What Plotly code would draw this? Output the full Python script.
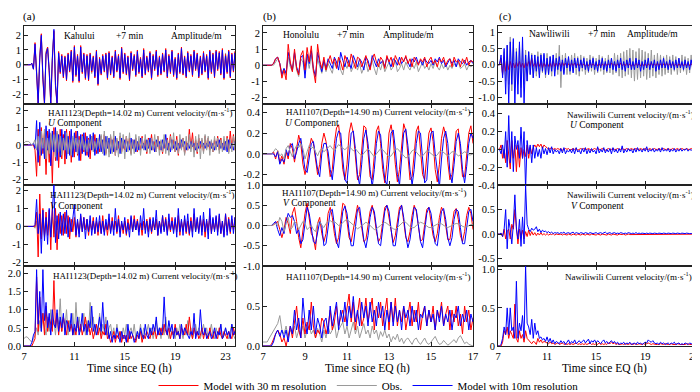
import numpy as np
import plotly.graph_objects as go

# ---------------- data ----------------
T0 = 7.0
DT_AC = 0.125   # sampling step (h) for columns (a) and (c)
DT_B = 0.1      # sampling step (h) for column (b)

# (a) Kahului amplitude (m)
A1_RED = [0,0,0,0,0,0.1,-0.3,1.5,
 -0.5,-2.7,0.5,2.1,-1.0,-2.7,0.8,1.2,
 -0.5,-2.7,0.3,2.3,-1.5,-2.7,0.9,-0.6,
 0.7,-0.9,0.6,-1.1,0.8,-0.5,1.0,-1.2,
 1.3,-0.8,0.7,-1.2,1.3,-0.6,0.8,-1.0,
 0.7,-1.1,0.8,-0.5,0.6,-0.9,1.0,-1.4,
 0.5,-0.7,0.7,-0.5,0.8,-1.0,0.9,-0.7,
 0.6,-0.9,1.0,-0.5,0.7,-1.0,1.2,-0.6,
 0.8,-0.7,0.6,-1.1,0.9,-0.4,0.7,-0.8,
 1.0,-0.6,0.5,-0.9,1.1,-0.7,0.6,-0.5,
 0.9,-1.0,0.7,-0.4,1.0,-0.8,0.6,-0.7,
 0.8,-0.5,1.1,-0.9,0.7,-0.6,1.0,-0.8,
 0.5,-1.0,0.8,-0.6,1.2,-0.7,0.6,-0.9,
 0.9,-0.5,0.7,-0.8,1.0,-0.4,0.8,-0.9,
 0.6,-0.7,0.9,-0.5,0.7,-1.0,1.0,-0.6,
 0.8,-0.9,1.0,-0.4,0.9,-0.7,1.1,-1.0,
 0.7,-0.6,1.0,-0.9,0.8,-0.5,0.9,-0.7]
A1_OBS = [0,0,0,0,0,0,-0.2,1.2,
 -0.3,-2.3,0.6,1.9,-0.7,-2.4,0.9,1.2,
 -0.2,-2.2,0.6,2.2,-1.2,-2.3,0.6,-0.3,
 0.4,-0.6,0.3,-0.5,0.5,-0.3,0.6,-0.7,
 0.8,-0.4,0.5,-0.6,0.7,-0.3,0.4,-0.6,
 0.5,-0.3,0.4,-0.6,0.3,-0.5,0.6,-0.8,
 0.3,-0.5,0.5,-0.3,0.6,-0.7,0.5,-0.4,
 0.4,-0.6,0.7,-0.3,0.5,-0.6,0.8,-0.4,
 0.5,-0.4,0.3,-0.8,0.6,-0.2,0.5,-0.5,
 0.7,-0.3,0.3,-0.6,0.8,-0.4,0.4,-0.3,
 0.6,-0.7,0.5,-0.2,0.7,-0.5,0.4,-0.5,
 0.5,-0.3,0.8,-0.6,0.4,-0.3,0.7,-0.5,
 0.3,-0.7,0.5,-0.4,0.8,-0.5,0.4,-0.6,
 0.6,-0.3,0.5,-0.5,0.7,-0.2,0.5,-0.6,
 0.4,-0.5,0.6,-0.3,0.5,-0.7,0.7,-0.4,
 0.5,-0.6,0.7,-0.2,0.6,-0.5,0.9,-0.7,
 0.8,-0.4,0.9,-0.6,0.5,-0.3,0.6,-0.5]
A1_BLUE = [0,0,0,0,0,0.1,-0.3,1.4,
 -0.4,-2.6,0.4,2.0,-0.9,-2.6,0.7,1.1,
 -0.4,-2.6,0.4,2.4,-1.4,-2.6,0.8,-0.5,
 0.6,-0.8,0.5,-1.0,0.7,-0.4,0.9,-1.1,
 1.2,-0.7,0.6,-1.1,1.2,-0.5,0.7,-0.9,
 0.6,-1.0,0.7,-0.4,0.5,-0.8,0.9,-1.3,
 0.4,-0.6,0.6,-0.4,0.7,-0.9,0.8,-0.6,
 0.5,-0.8,0.9,-0.4,0.6,-0.9,1.1,-0.5,
 0.7,-0.6,0.5,-1.0,0.8,-0.3,0.6,-0.7,
 0.9,-0.5,0.4,-0.8,1.0,-0.6,0.5,-0.4,
 0.8,-0.9,0.6,-0.3,0.9,-0.7,0.5,-0.6,
 0.7,-0.4,1.0,-0.8,0.6,-0.5,0.9,-0.7,
 0.4,-0.9,0.7,-0.5,1.1,-0.6,0.5,-0.8,
 0.8,-0.4,0.6,-0.7,0.9,-0.3,0.7,-0.8,
 0.5,-0.6,0.8,-0.4,0.6,-0.9,0.9,-0.5,
 0.7,-0.8,0.9,-0.3,0.8,-0.6,1.0,-0.9,
 0.6,-0.5,0.9,-0.8,0.7,-0.4,0.8,-0.6]

# (a) HAI1123 U component (m/s)
A2_RED = [0,0,0,0,0,0,0,-0.3,
 -1.8,0.9,-1.2,1.0,-0.5,0.7,-1.7,0.8,
 -1.0,0.6,-2.2,1.0,-0.9,0.7,-1.3,0.9,
 -0.8,0.6,-1.1,0.9,-0.5,0.8,-1.0,0.4,
 -0.7,0.8,-0.6,0.5,-0.9,0.6,-0.4,0.7,
 -0.6,0.4,-0.8,0.5,-0.3,0.6,-0.5,0.3,
 -0.4,0.5,-0.3,0.6,-0.5,0.2,-0.4,0.5,
 -0.3,0.4,-0.6,0.3,-0.2,0.5,-0.4,0.2,
 -0.3,0.5,-0.2,0.4,-0.5,0.3,-0.2,0.4,
 -0.4,0.2,-0.3,0.5,-0.2,0.3,-0.5,0.4,
 -0.2,0.6,-0.3,0.2,-0.4,0.5,-0.3,0.2,
 -0.5,0.3,-0.2,0.4,-0.3,0.6,-0.2,0.3,
 -0.4,0.5,-0.6,0.3,-0.2,0.4,-0.5,0.2,
 -0.3,0.9,-0.2,0.7,-0.4,0.3,-0.5,0.4,
 -0.2,0.3,-0.4,0.5,-0.2,0.4,-0.3,0.2,
 -0.4,0.3,-0.2,0.5,-0.3,0.4,-0.2,0.3,
 -0.3,0.5,-0.4,0.8,-0.2,0.6,-0.3,0.4]
A2_OBS = [0.1,0.2,0.2,0.2,0.1,0,0.1,0.3,
 -0.3,0.5,-0.6,0.8,-0.2,0.9,-0.8,0.4,
 -0.5,0.7,-0.3,0.6,-0.7,0.8,-0.4,0.5,
 -0.6,0.4,-0.3,0.7,-0.5,0.3,-0.6,0.5,
 -0.2,0.4,-0.5,0.3,-0.2,0.5,-0.3,0.2,
 -0.4,0.3,-0.2,0.5,-0.4,0.2,-0.3,0.4,
 -0.2,0.6,-0.5,0.8,-0.6,0.5,-0.7,0.6,
 -0.5,0.8,-0.6,0.4,-0.7,0.7,-0.5,0.6,
 -0.8,0.5,-0.4,0.7,-0.6,0.3,-0.5,0.6,
 -0.3,0.5,-0.6,0.4,-0.3,0.6,-0.4,0.3,
 -0.5,0.4,-0.3,0.6,-0.4,0.5,-0.6,0.3,
 -0.4,0.6,-0.5,0.3,-0.6,0.5,-0.3,0.7,
 -0.4,0.3,-0.5,0.6,-0.3,0.4,-0.6,0.5,
 -0.3,0.6,-0.4,0.3,-0.7,0.5,-0.4,0.6,
 -0.8,0.4,-0.5,0.6,-0.3,0.5,-0.6,0.3,
 -0.4,0.5,-0.3,0.4,-0.5,0.3,-0.4,0.5,
 -0.3,0.4,-0.5,0.3,-0.4,0.5,-0.3,0.4]
A2_BLUE = [0,0,0,0,0,0,0.1,-0.2,
 1.4,-1.0,1.3,-0.6,0.4,-0.8,1.1,-0.3,
 0.9,-1.2,0.8,-0.4,1.0,-0.9,0.6,-0.7,
 0.9,-0.3,0.8,-0.8,0.5,-0.6,0.9,-0.7,
 0.7,-0.4,0.8,-0.9,0.6,-0.5,0.7,-0.6,
 0.5,-0.7,0.6,-0.3,0.7,-0.6,0.4,-0.5,
 0.6,-0.4,0.3,-0.6,0.5,-0.2,0.4,-0.5,
 0.3,-0.4,0.5,-0.3,0.2,-0.5,0.4,-0.2,
 0.3,-0.4,0.2,-0.3,0.4,-0.2,0.3,-0.4,
 0.2,-0.3,0.4,-0.2,0.1,-0.3,0.3,-0.2,
 0.4,-0.3,0.2,-0.4,0.3,-0.1,0.2,-0.3,
 0.3,-0.2,0.6,-0.3,0.1,-0.4,0.3,-0.2,
 0.2,-0.3,0.1,-0.2,0.3,-0.1,0.2,-0.3,
 0.1,-0.2,0.2,-0.1,0.1,-0.3,0.1,-0.2,
 0.2,-0.1,0.1,-0.2,0.1,-0.1,0.2,-0.2,
 0.1,-0.3,0.2,-0.1,0.3,-0.2,0.1,-0.3,
 0.2,-0.4,0.3,-0.2,0.1,-0.3,0.2,-0.2]

# (a) HAI1123 V component (m/s)
A3_RED = [0,0,0,0,0,0,0,0,
 0.8,-1.7,1.8,-0.7,1.0,-0.6,0.8,-0.5,
 0.9,-1.3,1.2,-0.6,1.0,-1.3,0.7,-0.4,
 0.6,-0.5,0.8,-0.4,0.6,-0.7,0.4,-0.3,
 0.5,-0.6,0.3,-0.4,0.6,-0.3,0.5,-0.2,
 0.4,-0.5,0.3,-0.2,0.5,-0.4,0.3,-0.5,
 0.3,-0.4,0.6,-0.3,0.2,-0.5,0.4,-0.3,
 0.5,-0.2,0.3,-0.4,0.6,-0.3,0.2,-0.4,
 0.3,-0.5,0.4,-0.2,0.5,-0.3,0.6,-0.2,
 0.4,-0.3,0.2,-0.5,0.3,-0.2,0.4,-0.3,
 0.5,-0.4,0.3,-0.2,0.4,-0.5,0.3,-0.3,
 0.6,-0.2,0.5,-0.4,0.3,-0.3,0.5,-0.2,
 0.4,-0.3,0.6,-0.5,0.3,-0.2,0.4,-0.4,
 0.3,-0.5,0.5,-0.3,0.7,-0.2,0.4,-0.3,
 0.5,-0.3,0.4,-0.6,0.3,-0.2,0.6,-0.4,
 0.4,-0.2,0.5,-0.3,0.6,-0.4,0.3,-0.5,
 0.7,-0.3,0.5,-0.4,0.4,-0.2,0.5,-0.3]
A3_OBS = [0,0,0,0,0,0,0,-0.1,
 0.3,-0.4,0.5,-0.3,0.4,-0.5,0.3,-0.2,
 0.4,-0.3,0.5,-0.4,0.3,-0.2,0.4,-0.3,
 0.2,-0.3,0.3,-0.2,0.3,-0.3,0.2,-0.2,
 0.3,-0.2,0.2,-0.3,0.2,-0.2,0.3,-0.1,
 0.2,-0.3,0.1,-0.2,0.3,-0.2,0.2,-0.1,
 0.3,-0.2,0.2,-0.3,0.1,-0.2,0.3,-0.2,
 0.2,-0.1,0.3,-0.2,0.2,-0.3,0.1,-0.2,
 0.2,-0.3,0.2,-0.1,0.3,-0.2,0.1,-0.2,
 0.3,-0.2,0.1,-0.2,0.2,-0.1,0.3,-0.2,
 0.2,-0.3,0.2,-0.1,0.3,-0.2,0.2,-0.1,
 0.1,-0.2,0.3,-0.2,0.2,-0.1,0.2,-0.3,
 0.2,-0.1,0.3,-0.2,0.1,-0.2,0.2,-0.1,
 0.3,-0.2,0.2,-0.1,0.2,-0.3,0.1,-0.2,
 0.2,-0.1,0.3,-0.2,0.2,-0.1,0.3,-0.2,
 0.1,-0.2,0.2,-0.1,0.3,-0.2,0.1,-0.1,
 0.2,-0.1,0.2,-0.2,0.1,-0.1,0.2,-0.1]
A3_BLUE = [0,0,0,0,0,0,0,0.1,
 1.5,-0.4,0.7,-1.5,0.9,-0.8,0.5,-1.0,
 1.0,-0.6,1.2,2.3,-0.9,0.6,-0.7,0.8,
 -0.5,0.7,-0.4,0.9,-0.6,0.5,-0.3,0.6,
 1.2,-0.5,0.4,-0.6,0.7,-0.3,0.5,-0.7,
 0.4,-0.3,0.6,-0.5,0.3,-0.4,0.5,-0.3,
 0.6,-0.4,0.3,-0.5,0.4,-0.2,0.7,-0.4,
 0.3,-0.5,1.0,-0.3,0.4,-0.6,0.3,-0.2,
 0.5,-0.4,0.2,-0.6,0.6,-0.3,0.4,-0.2,
 0.3,-0.5,0.6,-0.2,1.0,-0.4,0.3,-0.6,
 0.4,-0.3,0.5,-0.2,0.9,-0.5,0.3,-0.4,
 0.6,-0.3,0.4,-0.5,0.7,-0.2,0.3,-0.4,
 0.5,-0.6,1.0,-0.3,0.4,-0.5,0.6,-0.3,
 0.7,-0.4,0.3,-0.6,1.0,-0.3,0.5,-0.4,
 0.6,-0.5,0.8,-0.3,0.4,-0.7,1.0,-0.4,
 0.5,-0.3,0.6,-0.5,0.7,-0.4,0.3,-0.6,
 0.7,-0.5,0.4,-0.3,0.6,-0.4,0.5,-0.3]

# (a) HAI1123 speed (m/s)
A4_RED = [0,0,0,0,0,0,0.1,0.2,
 1.9,0.4,1.35,0.5,0.9,0.3,1.1,0.4,
 0.8,0.6,0.4,1.8,0.5,0.9,0.3,0.7,
 0.4,0.8,0.5,0.3,0.7,0.4,0.6,0.3,
 0.5,0.3,0.7,0.4,0.6,0.3,0.5,0.8,
 0.4,0.6,0.3,0.5,0.2,0.4,0.6,0.3,
 0.5,0.2,0.4,0.3,0.6,0.2,0.3,0.1,
 0.2,0.4,0.1,0.3,0.2,0.4,0.1,0.3,
 0.2,0.3,0.1,0.4,0.2,0.3,0.2,0.1,
 0.3,0.2,0.4,0.1,0.3,0.2,0.4,0.3,
 0.2,0.4,0.3,0.5,0.2,0.4,0.3,0.5,
 0.3,0.6,0.4,0.3,0.5,0.2,0.4,0.3,
 0.6,0.3,0.4,0.2,0.5,0.4,0.3,0.6,
 0.3,0.8,0.4,0.2,0.5,0.3,0.4,0.2,
 0.3,0.5,0.2,0.4,0.3,0.2,0.5,0.3,
 0.2,0.4,0.3,0.2,0.5,0.3,0.2,0.4,
 0.3,0.2,0.4,0.3,0.2,0.5,0.3,0.75]
A4_OBS = [0.2,0.25,0.25,0.2,0.15,0.1,0.2,0.3,
 0.5,0.3,0.7,0.4,0.9,0.5,0.3,0.8,
 0.4,1.0,0.5,0.7,0.3,0.9,0.6,1.3,
 0.4,0.8,0.5,1.0,0.3,0.7,0.5,0.9,
 0.3,1.2,0.5,0.8,0.4,0.6,0.9,0.3,
 0.7,0.4,1.2,0.5,0.8,0.3,0.6,0.4,
 0.9,0.3,0.6,0.4,0.8,0.3,0.5,0.6,
 0.3,0.5,0.2,0.6,0.3,0.4,0.2,0.5,
 0.3,0.6,0.2,0.4,0.5,0.3,0.6,0.2,
 0.4,0.3,0.6,0.2,0.5,0.3,0.4,0.6,
 0.3,0.5,0.2,0.4,0.7,0.3,0.5,0.2,
 0.6,0.3,0.8,0.4,0.2,0.5,0.3,0.4,
 0.2,0.5,0.3,0.6,0.4,0.2,0.5,0.3,
 0.7,0.3,0.5,0.2,0.4,0.6,0.3,0.5,
 0.2,0.4,0.6,0.3,0.5,0.2,0.4,0.6,
 0.3,0.2,0.5,0.3,0.4,0.6,0.2,0.3,
 0.5,0.3,0.2,0.4,0.6,0.3,0.2,0.4]
A4_BLUE = [0,0,0,0,0,0.1,0.3,0.4,
 2.1,0.6,1.5,0.4,2.1,0.7,1.2,0.5,
 0.9,0.3,1.0,0.6,0.5,1.0,0.4,0.8,
 0.5,0.9,0.3,0.7,0.6,0.4,0.9,0.3,
 0.6,0.4,0.8,0.3,0.5,0.9,0.4,0.6,
 0.3,0.7,0.5,1.1,0.4,0.6,0.3,0.5,
 0.8,0.4,1.2,0.5,0.3,0.7,0.2,0.4,
 0.1,0.3,0.2,0.5,0.3,0.1,0.4,0.2,
 0.3,0.1,0.6,0.2,0.4,0.3,0.1,0.2,
 0.4,0.2,0.5,0.3,0.2,0.6,0.3,0.2,
 0.5,0.3,0.6,0.4,0.8,0.3,0.5,0.3,
 0.4,1.35,0.5,0.3,0.7,0.4,0.6,0.2,
 0.5,0.3,0.4,0.2,0.6,0.3,0.5,0.4,
 0.3,0.2,0.4,0.3,0.9,0.2,0.4,0.3,
 1.0,0.4,0.3,0.5,0.2,0.3,0.4,0.2,
 0.3,0.5,0.2,0.4,0.3,0.6,0.2,0.3,
 0.5,0.3,0.4,0.2,0.6,0.3,0.4,0.5]

# (b) Honolulu amplitude (m)
B1_RED = [0,0,0,0,0,0.1,0.4,0.5,0.1,-0.8,
 -0.3,-0.9,1.3,0.2,-0.4,1.0,-0.2,-0.6,0.6,0.9,
 -0.3,1.1,0.2,1.2,-0.3,-1.1,1.3,0.3,-0.2,0.5,
 -0.3,0.2,0.6,0.1,0.4,-0.2,0.5,0.2,-0.3,0.6,
 0.3,-0.1,0.7,0.2,-0.2,0.5,0.4,-0.1,0.3,0.6,
 0.1,-0.3,0.4,0.7,0.2,-0.1,0.5,0.3,-0.2,0.6,
 0.2,0.5,-0.1,0.6,0.3,0.0,0.5,0.2,0.6,0.1,
 0.4,-0.1,0.5,0.3,0.0,0.4,0.2,0.5,-0.1,0.3,
 0.5,0.1,0.3,-0.1,0.4,0.2,0.5,0.0,0.3,0.4,
 -0.1,0.5,0.2,0.3,-0.1,0.4,0.1,0.5,0.0,0.3,
 0.2]
B1_OBS = [0,0,0,0,0,0,0.2,0.4,0.1,-0.5,
 -0.2,-0.6,0.5,-0.1,-0.4,0.6,-0.3,-0.7,0.4,0.2,
 -0.5,0.5,-0.2,0.6,-0.4,-0.6,0.4,-0.1,-0.5,0.2,
 -0.4,0.1,-0.2,-0.5,0.2,-0.1,0.4,-0.3,-0.6,0.1,
 -0.2,0.3,-0.4,-0.1,0.2,-0.3,0.1,-0.5,-0.2,0.2,
 -0.4,-0.1,0.3,-0.2,-0.6,0.1,-0.3,0.2,-0.4,-0.1,
 0.2,-0.3,-0.1,0.3,-0.4,-0.2,0.1,-0.3,0.2,-0.1,
 -0.3,0.1,-0.2,0.2,-0.4,-0.1,0.2,-0.2,0.0,-0.3,
 0.1,-0.2,0.2,-0.1,-0.3,0.1,-0.2,0.1,-0.3,0.0,
 -0.2,0.1,-0.1,0.2,-0.2,-0.1,0.1,-0.3,0.0,-0.1,
 0.0]
B1_BLUE = [0,0,0,0,0,0.1,0.4,0.5,0.1,-0.6,
 -0.2,-0.5,0.8,0.1,-0.3,0.8,-0.1,-0.5,0.5,0.6,
 -0.8,0.7,0.1,0.9,-0.2,-0.7,0.8,0.2,-0.4,0.3,
 -0.2,0.4,0.1,-0.2,0.5,0.2,-0.3,0.8,0.3,-0.1,
 0.5,0.2,-0.2,0.6,0.3,-0.1,0.4,0.2,-0.3,0.5,
 0.3,-0.2,0.6,0.2,-0.1,0.4,0.1,0.3,-0.1,0.5,
 0.2,-0.1,0.4,0.3,0.0,0.5,0.1,0.3,0.5,0.2,
 -0.1,0.4,0.2,0.5,0.1,0.3,0.0,0.4,0.2,0.1,
 0.3,0.0,0.4,0.2,0.5,0.1,0.3,-0.1,0.2,0.4,
 0.1,0.3,-0.1,0.4,0.2,0.1,0.3,0.0,0.2,0.3,
 0.1]

# (b) HAI1107 U component (m/s)
B2_RED = [0,0,0,0,0,0.02,-0.05,0.03,-0.08,-0.02,
 -0.1,0.02,-0.05,0.1,0.05,-0.08,0.05,0.18,0.1,-0.1,
 -0.2,-0.1,0.05,0.15,0.1,-0.08,-0.2,-0.1,0.1,0.2,
 0.12,-0.05,-0.22,-0.15,0.1,0.25,0.28,0.1,-0.15,-0.25,
 -0.1,0.2,0.3,0.2,-0.05,-0.25,-0.2,0.05,0.27,0.25,
 0.0,-0.22,-0.25,0.0,0.22,0.27,0.1,-0.15,-0.28,-0.1,
 0.2,0.28,0.15,-0.1,-0.27,-0.15,0.1,0.29,0.22,-0.02,
 -0.25,-0.22,0.02,0.22,0.27,0.05,-0.2,-0.25,-0.05,0.2,
 0.25,0.12,-0.15,-0.27,-0.1,0.15,0.26,0.18,-0.08,-0.25,
 -0.2,0.05,0.22,0.24,0.0,-0.22,-0.22,0.0,0.2,0.27,
 0.1]
B2_OBS = [0,0,0,0,0,0.02,0.05,0.03,-0.02,0.0,
 -0.05,0.05,0.08,0.02,-0.03,0.04,0.08,0.06,0.1,0.05,
 -0.05,0.02,0.08,0.05,0.07,0.02,-0.02,0.03,0.05,0.02,
 0.04,0.06,0.08,0.05,0.03,0.06,0.09,0.07,0.05,0.04,
 0.06,0.08,0.05,0.03,0.05,0.02,0.0,-0.02,0.01,0.03,
 0.05,0.02,-0.01,-0.03,0.0,0.03,0.05,0.04,0.02,-0.01,
 -0.03,-0.02,0.01,0.04,0.05,0.03,0.0,-0.02,-0.04,-0.03,
 0.0,0.03,0.04,0.02,-0.01,-0.03,-0.02,0.01,0.03,0.02,
 0.0,-0.02,-0.03,-0.01,0.02,0.03,0.01,-0.01,-0.02,0.0,
 0.02,0.02,0.0,-0.02,-0.01,0.01,0.02,0.01,-0.01,-0.01,
 0.0]
B2_BLUE = [0,0,0,0,0,0.0,-0.03,0.02,-0.1,-0.05,
 -0.08,0.04,-0.02,0.08,0.1,-0.05,0.02,0.1,0.15,0.0,
 -0.15,-0.18,-0.02,0.1,0.12,0.0,-0.15,-0.22,0.0,0.1,
 0.1,0.02,-0.15,-0.25,-0.05,0.15,0.22,0.2,-0.05,-0.25,
 -0.28,0.0,0.2,0.22,0.05,-0.2,-0.3,-0.1,0.15,0.23,
 0.1,-0.15,-0.32,-0.15,0.1,0.22,0.18,-0.05,-0.25,-0.3,
 0.0,0.2,0.23,0.05,-0.2,-0.3,-0.05,0.2,0.24,0.08,
 -0.15,-0.3,-0.15,0.1,0.22,0.2,-0.05,-0.28,-0.25,0.05,
 0.2,0.22,0.0,-0.2,-0.32,-0.05,0.15,0.22,0.1,-0.18,
 -0.28,-0.1,0.12,0.2,0.1,-0.15,-0.28,-0.12,0.1,0.2,
 0.15]

# (b) HAI1107 V component (m/s)
B3_RED = [0,0,0,0,0,0.02,0.05,0.1,-0.1,-0.3,
 -0.1,0.2,0.05,-0.2,0.3,0.45,0.1,-0.3,-0.55,-0.1,
 0.3,0.55,0.2,-0.2,-0.3,-0.6,0.05,0.2,-0.2,-0.4,
 -0.2,0.3,0.45,0.2,-0.2,-0.45,-0.3,0.2,0.55,0.5,
 0.1,-0.3,-0.4,-0.1,0.3,0.5,0.3,-0.1,-0.4,-0.35,
 0.0,0.35,0.5,0.25,-0.15,-0.4,-0.3,0.1,0.45,0.5,
 0.2,-0.2,-0.42,-0.25,0.15,0.45,0.5,0.1,-0.3,-0.4,
 -0.15,0.25,0.5,0.35,-0.05,-0.38,-0.35,0.0,0.4,0.45,
 0.15,-0.25,-0.4,-0.2,0.2,0.45,0.35,-0.05,-0.35,-0.35,
 0.0,0.35,0.42,0.15,-0.25,-0.4,-0.15,0.25,0.45,0.3,
 -0.1]
B3_OBS = [0,0,0,0,0,0.02,0.05,0.0,0.2,0.1,
 -0.15,0.05,0.2,-0.1,-0.05,0.1,0.05,-0.1,0.0,0.1,
 0.05,-0.1,-0.05,0.0,-0.1,-0.15,0.05,0.1,0.0,-0.05,
 0.05,0.1,0.12,0.08,0.1,0.05,0.0,0.02,0.08,0.12,
 0.15,0.1,0.05,0.0,-0.05,-0.08,-0.05,0.0,0.05,0.08,
 0.05,0.0,-0.05,-0.1,-0.08,-0.05,0.0,0.05,0.08,0.05,
 0.0,-0.05,-0.08,-0.1,-0.05,0.0,0.05,0.1,0.08,0.02,
 -0.03,-0.06,-0.05,0.0,0.05,0.08,0.06,0.02,-0.02,-0.05,
 -0.05,-0.02,0.02,0.05,0.06,0.04,0.0,-0.03,-0.05,-0.03,
 0.0,0.03,0.05,0.04,0.02,-0.02,-0.04,-0.03,0.0,0.02,
 0.03]
B3_BLUE = [0,0,0,0,0,0.05,0.1,-0.1,-0.25,-0.05,
 -0.2,0.1,0.3,0.2,0.25,0.1,-0.2,-0.1,-0.45,-0.35,
 0.1,0.45,0.3,0.0,-0.4,-0.45,-0.15,0.1,0.0,-0.5,
 -0.45,0.0,0.35,0.4,0.0,-0.4,-0.55,-0.05,0.35,0.48,
 0.3,-0.15,-0.5,-0.5,0.0,0.4,0.45,0.1,-0.35,-0.55,
 -0.25,0.2,0.45,0.35,0.0,-0.45,-0.5,-0.1,0.35,0.5,
 0.35,-0.1,-0.5,-0.5,-0.05,0.35,0.5,0.2,-0.25,-0.55,
 -0.35,0.1,0.45,0.4,0.05,-0.4,-0.55,-0.15,0.3,0.45,
 0.3,-0.1,-0.45,-0.5,-0.05,0.35,0.42,0.15,-0.3,-0.5,
 -0.3,0.15,0.4,0.35,-0.05,-0.45,-0.45,0.0,0.35,0.4,
 0.1]

# (b) HAI1107 speed (m/s)
B4_RED = [0,0,0,0,0.02,0.1,0.15,0.2,0.15,0.05,
 0.1,0.0,0.15,0.25,0.1,0.3,0.5,0.2,0.1,0.35,
 0.15,0.3,0.2,0.55,0.25,0.1,0.2,0.15,0.35,0.3,
 0.15,0.25,0.45,0.2,0.3,0.5,0.25,0.35,0.45,0.3,
 0.5,0.65,0.3,0.55,0.2,0.4,0.6,0.25,0.35,0.6,
 0.3,0.45,0.6,0.2,0.5,0.35,0.55,0.25,0.4,0.6,
 0.2,0.55,0.3,0.6,0.25,0.45,0.3,0.5,0.2,0.4,
 0.55,0.25,0.45,0.3,0.55,0.2,0.4,0.5,0.25,0.45,
 0.3,0.5,0.2,0.45,0.35,0.55,0.25,0.4,0.5,0.2,
 0.45,0.3,0.5,0.25,0.4,0.15,0.5,0.3,0.45,0.2,
 0.35]
B4_OBS = [0.05,0.05,0.05,0.1,0.15,0.2,0.25,0.28,0.38,0.2,
 0.15,0.25,0.1,0.2,0.15,0.25,0.1,0.2,0.15,0.25,
 0.1,0.2,0.25,0.15,0.2,0.1,0.22,0.15,0.05,0.2,
 0.1,0.25,0.15,0.2,0.3,0.1,0.2,0.25,0.3,0.15,
 0.25,0.1,0.2,0.3,0.15,0.25,0.1,0.2,0.28,0.15,
 0.2,0.1,0.25,0.15,0.2,0.08,0.18,0.12,0.2,0.1,
 0.15,0.05,0.12,0.08,0.15,0.05,0.1,0.03,0.08,0.1,
 0.05,0.02,0.08,0.1,0.05,0.02,0.06,0.1,0.04,0.02,
 0.05,0.08,0.12,0.06,0.02,0.03,0.07,0.04,0.01,0.03,
 0.06,0.08,0.04,0.1,0.13,0.08,0.03,0.05,0.02,0.01,
 0.0]
B4_BLUE = [0,0,0,0,0,0.05,0.15,0.2,0.12,0.2,
 0.1,0.2,0.05,0.25,0.15,0.45,0.2,0.35,0.1,0.6,
 0.3,0.15,0.45,0.2,0.5,0.15,0.35,0.25,0.1,0.3,
 0.35,0.15,0.5,0.25,0.4,0.55,0.2,0.45,0.3,0.55,
 0.25,0.5,0.35,0.62,0.3,0.45,0.25,0.55,0.35,0.5,
 0.25,0.55,0.3,0.45,0.25,0.55,0.35,0.5,0.2,0.45,
 0.3,0.55,0.25,0.5,0.3,0.45,0.2,0.5,0.35,0.45,
 0.25,0.5,0.3,0.45,0.2,0.4,0.35,0.5,0.25,0.45,
 0.3,0.4,0.2,0.45,0.3,0.5,0.25,0.4,0.3,0.45,
 0.2,0.4,0.35,0.5,0.25,0.4,0.3,0.45,0.2,0.4,
 0.3]

# (c) Nawiliwili amplitude (m)
C1_RED = [0,0,0.2,-0.3,0.25,-0.2,0.1,-0.15,
 0.1,-0.1,0.05,-0.1,0.08,-0.05,0.1,-0.08,
 0.05,-0.1,0.08,-0.05,0.1,-0.05,0.2,-0.05,
 0.05,-0.08,0.1,-0.05,0.08,-0.1,0.05,-0.05,
 0.08,-0.05,0.05,-0.08,0.1,-0.05,0.05,-0.05,
 0.05,-0.05,0.08,-0.03,0.05,-0.05,0.03,-0.05,
 0.05,-0.03,0.05,-0.05,0.03,-0.03,0.05,-0.03,
 0.03,-0.05,0.03,-0.03,0.05,-0.03,0.03,-0.03,
 0.05,-0.03,0.03,-0.05,0.03,-0.03,0.05,-0.03,
 0.03,-0.03,0.05,-0.03,0.03,-0.05,0.03,-0.03,
 0.05,-0.03,0.03,-0.03,0.05,-0.03,0.03,-0.05,
 0.03,-0.03,0.05,-0.03,0.03,-0.03,0.05,-0.03,
 0.03,-0.05,0.03,-0.03,0.05,-0.03,0.03,-0.03,
 0.05,-0.03,0.03,-0.05,0.03,-0.03,0.05,-0.03,
 0.03,-0.03,0.05,-0.03,0.03,-0.05,0.03,-0.03,
 0.05,-0.03,0.03,-0.03,0.05,-0.03,0.03,-0.03,
 0.03,-0.05,0.03,-0.03,0.05,-0.03,0.03,-0.03,
 0.0]
C1_OBS = [0,0,0.2,-0.3,0.4,-0.5,0.6,-0.6,
 0.85,-0.8,0.7,-0.7,0.5,-0.6,0.6,-0.7,
 0.5,-0.6,0.45,-0.5,0.4,-0.3,0.35,-0.4,
 0.3,-0.35,0.4,-0.3,0.35,-0.25,0.3,-0.4,
 0.35,-0.3,0.25,-0.35,0.3,-0.2,0.35,-0.3,
 0.6,-0.7,0.3,-0.25,0.35,-0.3,0.2,-0.3,
 0.3,-0.2,0.35,-0.3,0.25,-0.35,0.3,-0.2,
 0.25,-0.3,0.2,-0.25,0.3,-0.2,0.25,-0.3,
 0.2,-0.25,0.3,-0.2,0.25,-0.3,0.2,-0.25,
 0.3,-0.25,0.2,-0.3,0.35,-0.25,0.3,-0.35,
 0.35,-0.4,0.4,-0.35,0.45,-0.3,0.5,-0.4,
 0.45,-0.5,0.4,-0.45,0.5,-0.4,0.45,-0.35,
 0.4,-0.45,0.35,-0.4,0.45,-0.35,0.3,-0.4,
 0.35,-0.3,0.3,-0.35,0.25,-0.3,0.3,-0.25,
 0.25,-0.3,0.3,-0.2,0.25,-0.3,0.2,-0.25,
 0.3,-0.2,0.25,-0.3,0.2,-0.25,0.3,-0.2,
 0.2,-0.25,0.25,-0.2,0.3,-0.2,0.2,-0.25,
 0.2]
C1_BLUE = [0,0,0.3,-0.4,0.5,-0.9,0.6,-1.2,
 0.7,-0.6,0.8,-1.2,0.4,-0.9,0.7,-1.0,
 0.85,-1.2,0.3,-0.5,0.4,-0.3,0.3,-0.4,
 0.3,-0.2,0.25,-0.4,0.3,-0.2,0.35,-0.3,
 0.2,-0.3,0.25,-0.2,0.3,-0.35,0.2,-0.15,
 0.25,-0.2,0.15,-0.3,0.2,-0.1,0.25,-0.2,
 0.15,-0.25,0.2,-0.1,0.2,-0.2,0.15,-0.1,
 0.2,-0.15,0.1,-0.2,0.15,-0.1,0.2,-0.15,
 0.1,-0.2,0.15,-0.1,0.2,-0.15,0.1,-0.2,
 0.15,-0.1,0.2,-0.15,0.1,-0.2,0.15,-0.1,
 0.2,-0.15,0.1,-0.2,0.15,-0.1,0.2,-0.15,
 0.1,-0.15,0.2,-0.1,0.15,-0.2,0.1,-0.15,
 0.15,-0.1,0.2,-0.15,0.1,-0.1,0.15,-0.2,
 0.1,-0.15,0.15,-0.1,0.2,-0.1,0.1,-0.15,
 0.15,-0.1,0.1,-0.15,0.15,-0.1,0.2,-0.1,
 0.1,-0.15,0.15,-0.1,0.1,-0.15,0.15,-0.1,
 0.1,-0.1,0.15,-0.1,0.1,-0.15,0.1,-0.1,
 0.1]

# (c) Nawiliwili U component (m/s)
C2_RED = [0,0,0.05,-0.1,0.0,-0.15,0.1,-0.05,
 -0.22,0.1,-0.1,0.05,-0.25,0.05,-0.2,0.02,
 -0.1,0.0,-0.08,0.05,-0.1,0.03,-0.05,0.02,
 0.05,0.02,0.06,0.03,0.06,0.01,0.05,0.03,
 0.02,0.0,0.01,0.02,0.0,0.01,0.0,0.01,
 0.0,0.01,-0.01,0.0,0.01,0.0,0.01,-0.01,
 0.0,0.01,0.0,0.01,-0.01,0.0,0.01,0.0,
 0.01,0.0,0.0,0.01,0.0,-0.01,0.0,0.01,
 0.0,0.01,0.0,0.0,0.01,0.0,-0.01,0.0,
 0.01,0.0,0.0,0.01,0.0,0.0,0.01,0.0,
 0.0,0.01,0.0,0.0,0.01,0.0,0.0,0.01,
 0.0,0.0,0.01,0.0,0.0,0.01,0.0,0.0,
 0.01,0.0,0.0,0.01,0.0,0.0,0.01,0.0,
 0.0,0.01,0.0,0.0,0.01,0.0,0.0,0.01,
 0.0,0.0,0.01,0.0,0.0,0.01,0.0,0.0,
 0.01,0.0,0.0,0.01,0.0,0.0,0.01,0.0,
 0.0,0.01,0.0,0.0,0.01,0.0,0.0,0.01,
 0.0]
C2_BLUE = [0,0,-0.05,0.05,-0.1,0.2,-0.2,0.38,
 -0.15,0.2,-0.25,0.15,0.0,0.1,-0.1,0.25,
 -0.1,0.2,-0.45,0.1,-0.05,0.05,-0.15,0.05,
 -0.1,0.02,-0.08,0.0,-0.1,0.03,-0.05,0.01,
 -0.06,0.02,-0.04,0.03,-0.05,0.0,-0.03,-0.01,
 -0.05,0.01,-0.04,0.02,-0.05,-0.01,-0.03,0.0,
 -0.04,0.01,-0.05,0.02,-0.03,-0.01,-0.05,0.01,
 -0.03,0.02,-0.05,0.0,-0.04,0.01,-0.03,-0.01,
 -0.05,0.03,-0.04,0.0,-0.03,0.02,-0.04,0.0,
 -0.03,0.01,-0.05,0.02,-0.03,0.0,-0.04,0.01,
 -0.03,0.04,-0.04,0.0,-0.03,0.01,-0.02,0.0,
 -0.04,0.01,-0.03,0.02,-0.02,0.0,-0.03,0.01,
 -0.02,0.03,-0.03,0.0,-0.02,0.01,-0.03,0.0,
 -0.02,0.01,-0.03,0.02,-0.02,0.0,-0.02,0.01,
 -0.03,0.0,-0.02,0.01,-0.03,0.0,-0.02,0.01,
 -0.02,0.0,-0.01,0.01,-0.02,0.0,-0.01,0.0,
 -0.02,0.01,-0.01,0.0,-0.02,0.01,-0.01,0.0,
 -0.01]

# (c) Nawiliwili V component (m/s)
C3_RED = [0,0,0.02,-0.05,0.1,-0.1,0.05,0.1,
 -0.1,0.2,0.1,0.5,0.15,-0.2,0.1,-0.05,
 0.08,-0.1,0.05,-0.05,0.08,-0.03,0.05,-0.02,
 0.03,-0.03,0.02,-0.02,0.03,-0.02,0.01,-0.02,
 0.01,-0.02,0.0,-0.01,0.01,-0.02,0.0,-0.01,
 -0.01,0.0,-0.02,0.0,-0.01,-0.02,0.0,-0.01,
 -0.02,0.0,-0.01,-0.02,0.0,-0.01,-0.02,0.0,
 -0.01,-0.02,0.0,-0.01,-0.02,0.0,-0.01,-0.01,
 -0.02,0.0,-0.01,-0.02,0.0,-0.01,-0.01,-0.02,
 0.0,-0.01,-0.02,0.0,-0.01,-0.01,-0.02,0.0,
 -0.01,-0.01,0.0,-0.02,-0.01,0.0,-0.01,-0.01,
 0.0,-0.01,-0.01,0.0,-0.01,-0.01,0.0,-0.01,
 -0.01,0.0,-0.01,-0.01,0.0,-0.01,-0.01,0.0,
 -0.01,-0.01,0.0,-0.01,0.0,-0.01,-0.01,0.0,
 -0.01,0.0,-0.01,0.0,-0.01,0.0,-0.01,0.0,
 0.0,-0.01,0.0,-0.01,0.0,-0.01,0.0,0.0,
 -0.01,0.0,0.0,-0.01,0.0,0.0,-0.01,0.0,
 0.0]
C3_BLUE = [0,0,0.02,-0.05,0.1,0.5,-0.3,0.3,
 0.1,-0.2,0.2,0.8,0.1,-0.1,0.3,-0.25,
 0.35,-0.2,1.0,0.2,0.1,0.05,0.12,0.08,
 0.1,0.15,0.05,0.1,0.03,0.08,0.05,0.06,
 0.03,0.05,0.02,0.04,0.01,0.03,0.02,0.03,
 0.01,0.03,0.02,0.04,0.01,0.02,0.03,0.01,
 0.02,0.04,0.01,0.03,0.02,0.01,0.03,0.02,
 0.01,0.03,0.02,0.01,0.03,0.02,0.01,0.02,
 0.03,0.01,0.02,0.03,0.01,0.02,0.04,0.01,
 0.02,0.03,0.01,0.02,0.03,0.01,0.02,0.01,
 0.03,0.02,0.01,0.02,0.01,0.03,0.02,0.01,
 0.02,0.01,0.03,0.01,0.02,0.01,0.02,0.01,
 0.01,0.02,0.01,0.02,0.01,0.01,0.02,0.01,
 0.01,0.02,0.01,0.01,0.02,0.01,0.01,0.02,
 0.01,0.01,0.02,0.01,0.01,0.02,0.01,0.01,
 0.02,0.01,0.01,0.02,0.01,0.01,0.01,0.02,
 0.01,0.01,0.02,0.01,0.01,0.01,0.02,0.01,
 0.01]

# (c) Nawiliwili speed (m/s)
C4_RED = [0,0,0,0.05,0.2,0.15,0.25,0.1,
 0.2,0.15,0.1,0.55,0.1,0.05,0.2,0.1,
 0.15,0.05,0.2,0.1,0.08,0.05,0.03,0.06,
 0.05,0.02,0.1,0.05,0.08,0.04,0.06,0.05,
 0.04,0.03,0.05,0.03,0.04,0.02,0.03,0.04,
 0.02,0.03,0.04,0.02,0.03,0.02,0.03,0.02,
 0.03,0.02,0.03,0.04,0.02,0.03,0.02,0.03,
 0.02,0.03,0.02,0.03,0.04,0.02,0.03,0.02,
 0.03,0.02,0.04,0.02,0.03,0.02,0.03,0.02,
 0.04,0.03,0.05,0.03,0.04,0.02,0.03,0.02,
 0.02,0.03,0.02,0.03,0.02,0.02,0.03,0.02,
 0.02,0.03,0.02,0.02,0.03,0.02,0.02,0.03,
 0.02,0.03,0.04,0.03,0.02,0.03,0.02,0.02,
 0.02,0.02,0.03,0.02,0.02,0.03,0.02,0.02,
 0.02,0.03,0.02,0.02,0.02,0.03,0.02,0.02,
 0.02,0.02,0.02,0.03,0.02,0.02,0.02,0.02,
 0.02,0.02,0.03,0.02,0.02,0.02,0.02,0.02,
 0.02]
C4_BLUE = [0,0,0.02,0.1,0.25,0.15,0.5,0.15,
 0.5,0.2,0.25,0.1,0.85,0.1,0.3,0.2,
 0.4,0.1,1.05,0.3,0.25,0.15,0.35,0.1,
 0.3,0.15,0.2,0.1,0.12,0.08,0.1,0.06,
 0.12,0.05,0.1,0.04,0.08,0.03,0.06,0.05,
 0.03,0.07,0.04,0.06,0.02,0.05,0.08,0.03,
 0.06,0.04,0.08,0.03,0.05,0.07,0.04,0.06,
 0.08,0.04,0.06,0.09,0.03,0.07,0.05,0.08,
 0.04,0.07,0.05,0.03,0.06,0.08,0.04,0.06,
 0.03,0.05,0.07,0.04,0.06,0.03,0.05,0.02,
 0.04,0.03,0.05,0.02,0.04,0.03,0.05,0.02,
 0.03,0.04,0.02,0.05,0.03,0.04,0.02,0.03,
 0.05,0.04,0.08,0.06,0.05,0.07,0.04,0.03,
 0.04,0.02,0.05,0.03,0.04,0.02,0.03,0.04,
 0.02,0.04,0.03,0.05,0.02,0.03,0.04,0.02,
 0.03,0.02,0.04,0.03,0.02,0.04,0.03,0.02,
 0.03,0.04,0.02,0.03,0.02,0.04,0.03,0.02,
 0.03]

# axis ticks / labels
X_TICKS = [[7, 11, 15, 19, 23], [7, 9, 11, 13, 15, 17], [7, 11, 15, 19, 23]]
Y_TICKS = [
    [[-2, -1, 0, 1, 2], [-2, -1, 0, 1, 2], [-2, -1, 0, 1, 2], [0, 0.5, 1.0, 1.5, 2.0]],
    [[-2, -1, 0, 1, 2], [-0.2, 0, 0.2, 0.4], [-1.0, -0.5, 0, 0.5, 1.0], [0, 0.5]],
    [[-1.0, -0.5, 0, 0.5, 1.0], [-0.4, -0.2, 0, 0.2, 0.4], [-0.5, 0, 0.5], [0, 0.5, 1.0]],
]
Y_TICKTEXT = [
    [["-2", "-1", "0", "1", "2"], ["-2", "-1", "0", "1", "2"], ["-2", "-1", "0", "1", "2"],
     ["0.0", "0.5", "1.0", "1.5", "2.0"]],
    [["-2", "-1", "0", "1", "2"], ["-0.2", "0.0", "0.2", "0.4"],
     ["-1.0", "-0.5", "0.0", "0.5", "1.0"], ["0.0", "0.5"]],
    [["-1.0", "-0.5", "0.0", "0.5", "1"], ["-0.4", "-0.2", "0.0", "0.2", "0.4"],
     ["-0.5", "0.0", "0.5"], ["0", "0.5", "1.0"]],
]
SERIES_NAMES = {"red": "Model with 30 m resolution", "gray": "Obs.", "blue": "Model with 10m resolution"}

# ---------------- layout geometry / styles ----------------
W, H = 700, 392
FONT = "Liberation Serif, Times New Roman, serif"
COLORS = {"red": "#ff0000", "gray": "#9a9a9a", "blue": "#0000ff"}
RANK = {"red": 1, "gray": 2, "blue": 3}
COL_PX = [(16, 227), (255, 465), (490, 698.5)]
ROW_PX = [(17.5, 96), (96, 177), (177, 258), (258, 338)]
X_RANGES = [[7, 23.75], [7, 17], [7, 24]]
Y_RANGES = [
    [[-2.66, 2.66], [-2.3, 2.35], [-2.2, 2.3], [0, 2.2]],
    [[-2.4, 2.46], [-0.3, 0.48], [-1.0, 1.0], [0, 1.0]],
    [[-1.2, 1.2], [-0.4, 0.51], [-0.65, 1.0], [0, 1.05]],
]
DTS = [DT_AC, DT_B, DT_AC]

PANELS = [
    [[("gray", A1_OBS), ("red", A1_RED), ("blue", A1_BLUE)],
     [("red", A2_RED), ("blue", A2_BLUE), ("gray", A2_OBS)],
     [("gray", A3_OBS), ("red", A3_RED), ("blue", A3_BLUE)],
     [("gray", A4_OBS), ("red", A4_RED), ("blue", A4_BLUE)]],
    [[("gray", B1_OBS), ("blue", B1_BLUE), ("red", B1_RED)],
     [("red", B2_RED), ("blue", B2_BLUE), ("gray", B2_OBS)],
     [("red", B3_RED), ("blue", B3_BLUE), ("gray", B3_OBS)],
     [("gray", B4_OBS), ("red", B4_RED), ("blue", B4_BLUE)]],
    [[("gray", C1_OBS), ("red", C1_RED), ("blue", C1_BLUE)],
     [("red", C2_RED), ("blue", C2_BLUE)],
     [("red", C3_RED), ("blue", C3_BLUE)],
     [("red", C4_RED), ("blue", C4_BLUE)]],
]

fig = go.Figure()
shown = set()
layout_axes = {}
for c in range(3):
    for r in range(4):
        k = r * 3 + c + 1
        xa = "x" if k == 1 else f"x{k}"
        ya = "y" if k == 1 else f"y{k}"
        for key, vals in PANELS[c][r]:
            v = np.asarray(vals, dtype=float)
            t = T0 + DTS[c] * np.arange(len(v))
            show = key not in shown
            shown.add(key)
            fig.add_trace(go.Scatter(
                x=t, y=v, mode="lines", xaxis=xa, yaxis=ya,
                line=dict(color=COLORS[key], width=1),
                name=SERIES_NAMES[key], legendgroup=key, showlegend=show,
                legendrank=RANK[key], hoverinfo="skip"))
        x0, x1 = COL_PX[c]
        top, bot = ROW_PX[r]
        common = dict(showline=True, linecolor="#222", linewidth=1, mirror="ticks",
                      ticks="inside", ticklen=4, tickcolor="#222", showgrid=False,
                      zeroline=False, automargin=False,
                      tickfont=dict(family=FONT, size=10.5, color="black"))
        layout_axes["xaxis" if k == 1 else f"xaxis{k}"] = dict(
            domain=[x0 / W, x1 / W], range=X_RANGES[c], anchor=ya,
            tickvals=X_TICKS[c], ticktext=[str(v) for v in X_TICKS[c]],
            showticklabels=(r == 3), **common)
        layout_axes["yaxis" if k == 1 else f"yaxis{k}"] = dict(
            domain=[1 - bot / H, 1 - top / H], range=Y_RANGES[c][r], anchor=xa,
            tickvals=Y_TICKS[c][r], ticktext=Y_TICKTEXT[c][r], **common)

def ann(text, px, py, size=9.5, xanchor="left"):
    return dict(text=text, x=px / W, y=1 - py / H, xref="paper", yref="paper",
                xanchor=xanchor, yanchor="middle", showarrow=False,
                font=dict(family=FONT, size=size, color="black"))

VEL = "Current velocity/(m·s<sup>-1</sup>)"
LS = 9  # font size of the long station/velocity captions
annots = [
    ann("(a)", 21, 8, 11, "center"), ann("(b)", 261.5, 8, 11, "center"), ann("(c)", 497, 8, 11, "center"),
    ann("Kahului", 71, 28, 9.5, "center"), ann("+7 min", 122, 28, 9.5, "center"),
    ann("Amplitude/m", 188, 28, 9.5, "center"),
    ann("Honolulu", 293, 27, 9.5, "center"), ann("+7 min", 343, 27, 9.5, "center"),
    ann("Amplitude/m", 400, 27, 9.5, "center"),
    ann("Nawiliwili", 541, 26, 9.5, "center"), ann("+7 min", 594, 26, 9.5, "center"),
    ann("Amplitude/m", 644, 26, 9.5, "center"),
    ann("HAI1123(Depth=14.02 m) " + VEL, 38, 104, LS), ann("<i>U</i> Component", 38, 115),
    ann("HAI1123(Depth=14.02 m) " + VEL, 40, 186, LS), ann("<i>V</i> Component", 40, 198),
    ann("HAI1123(Depth=14.02 m) " + VEL, 43, 267, LS),
    ann("HAI1107(Depth=14.90 m) " + VEL, 276, 103, LS), ann("<i>U</i> Component", 275, 115),
    ann("HAI1107(Depth=14.90 m) " + VEL, 272, 184, LS), ann("<i>V</i> Component", 273, 195),
    ann("HAI1107(Depth=14.90 m) " + VEL, 276, 268, LS),
    ann("Nawiliwili " + VEL, 557, 106, LS), ann("<i>U</i> Component", 560, 117),
    ann("Nawiliwili " + VEL, 557, 186, LS), ann("<i>V</i> Component", 561, 198),
    ann("Nawiliwili " + VEL, 555, 268, LS),
    ann("Time since EQ (h)", 121.5, 360, 11.5, "center"),
    ann("Time since EQ (h)", 360, 360, 11.5, "center"),
    ann("Time since EQ (h)", 596, 360, 11.5, "center"),
]

fig.update_layout(
    width=W, height=H, margin=dict(l=0, r=0, t=0, b=0, autoexpand=False),
    paper_bgcolor="white", plot_bgcolor="white",
    font=dict(family=FONT, size=11, color="black"),
    showlegend=True,
    legend=dict(orientation="h", x=0.515, xanchor="center", y=0.0, yanchor="bottom",
                font=dict(family=FONT, size=11), itemwidth=40, bgcolor="rgba(0,0,0,0)",
                traceorder="normal"),
    annotations=annots,
    **layout_axes,
)

fig.write_html("out.html")
